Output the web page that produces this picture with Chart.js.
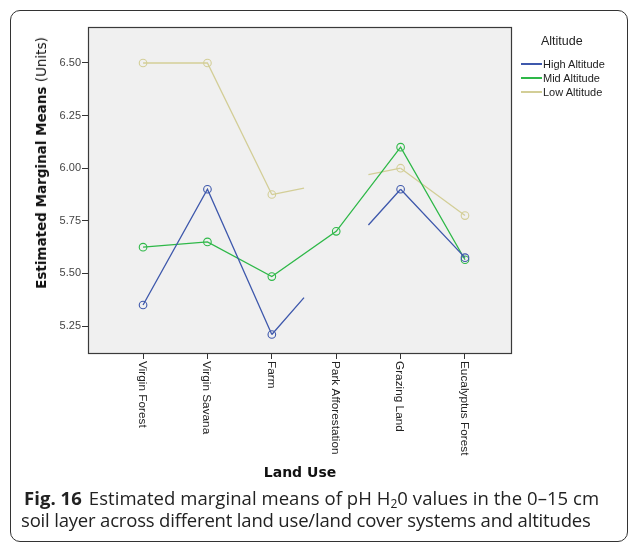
<!DOCTYPE html>
<html>
<head>
<meta charset="utf-8">
<script src="https://cdn.jsdelivr.net/npm/chart.js@4/dist/chart.umd.min.js"></script>
<style>
  html, body { margin: 0; padding: 0; background: #fff; }
  body { width: 629px; height: 544px; position: relative; overflow: hidden; }
  #frame {
    position: absolute; left: 10px; top: 10px; width: 618px; height: 532px;
    border: 1px solid #333; border-radius: 10px; box-sizing: border-box;
  }
  #wrap { position: absolute; left: 0; top: 0; width: 629px; height: 490px; }
  #ytitle {
    position: absolute; left: 41px; top: 163px;
    transform: translate(-50%, -50%) rotate(-90deg);
    white-space: nowrap; font-family: "DejaVu Sans", sans-serif; font-size: 13.5px; color: #111;
  }
  #ytitle b { font-weight: bold; }
  #legend { position: absolute; left: 521px; top: 31.5px; font-family: "Liberation Sans", Arial, sans-serif; color: #222; }
  #legend .ttl { position: absolute; left: 20px; top: 2px; font-size: 12.5px; white-space: nowrap; }
  #legend .item { position: absolute; left: 0; height: 14px; white-space: nowrap; font-size: 11px; line-height: 14px; }
  #legend .item i { display: inline-block; width: 21px; height: 2px; vertical-align: middle; margin-right: 1px; position: relative; top: -1px; }
  #caption {
    position: absolute; left: 21px; top: 486.5px; width: 606px;
    font-family: "Open Sans", sans-serif; font-size: 18.5px; line-height: 22.5px; color: #222;
  }
  #caption .l1 { display: block; white-space: nowrap; padding-left: 3px; letter-spacing: 0.05px; }
  #caption .l2 { display: block; white-space: nowrap; letter-spacing: -0.18px; }
  #caption b { font-weight: bold; margin-right: 7px; }
  #caption sub { font-size: 12px; vertical-align: -3px; line-height: 0; }
</style>
</head>
<body>
<div id="frame"></div>
<div id="wrap"><canvas id="chart"></canvas></div>
<div id="ytitle"><b>Estimated Marginal Means</b> (Units)</div>
<div id="legend"></div>
<div id="caption"><span class="l1"><b>Fig. 16</b>Estimated marginal means of pH H<sub>2</sub>0 values in the 0–15 cm</span><span class="l2">soil layer across different land use/land cover systems and altitudes</span></div>
<script>
// Land use categories along the x axis
const landUse = ['Virgin Forest', 'Virgin Savana', 'Farm', 'Park Afforestation', 'Grazing Land', 'Eucalyptus Forest'];

// Estimated marginal means of pH H2O per altitude (null = no estimate)
const highAltitude = [5.35, 5.90, 5.21, null, 5.90, 5.575];
const midAltitude  = [5.625, 5.65, 5.485, 5.70, 6.10, 5.565];
const lowAltitude  = [6.50, 6.50, 5.875, null, 6.00, 5.775];

// Half-segment ends drawn toward the missing Park Afforestation cell
// (value at the Farm side, value at the Grazing Land side)
const highGapEnds = [5.385, 5.73];
const lowGapEnds  = [5.905, 5.97];

// Y axis tick values
const yTicks = [5.25, 5.50, 5.75, 6.00, 6.25, 6.50];

const seriesNames  = ['High Altitude', 'Mid Altitude', 'Low Altitude'];
const seriesColors = ['#3e58ac', '#2eb848', '#d3ce97'];

const toPoints = arr => arr.map((v, i) => ({ x: i, y: v }));
const gapPoints = (arr, ends) => [
  { x: 2, y: arr[2] }, { x: 2.5, y: ends[0] }, { x: 3, y: null },
  { x: 3.5, y: ends[1] }, { x: 4, y: arr[4] }
];

const lineStyle = (color) => ({
  borderColor: color, backgroundColor: 'transparent', borderWidth: 1.3,
  pointBorderColor: color, pointBackgroundColor: 'transparent',
  pointRadius: 3.8, pointHoverRadius: 3.8, pointBorderWidth: 1.1,
  spanGaps: false, tension: 0
});

const datasets = [
  Object.assign({ label: seriesNames[0], data: toPoints(highAltitude) }, lineStyle(seriesColors[0])),
  Object.assign({ label: seriesNames[1], data: toPoints(midAltitude) }, lineStyle(seriesColors[1])),
  Object.assign({ label: seriesNames[2], data: toPoints(lowAltitude) }, lineStyle(seriesColors[2])),
  Object.assign({ label: 'high-gap', data: gapPoints(highAltitude, highGapEnds) }, lineStyle(seriesColors[0]), { pointRadius: 0 }),
  Object.assign({ label: 'low-gap', data: gapPoints(lowAltitude, lowGapEnds) }, lineStyle(seriesColors[2]), { pointRadius: 0 })
];
// draw order: low behind, high on top
datasets[0].order = 1; datasets[1].order = 2; datasets[2].order = 3;
datasets[3].order = 1; datasets[4].order = 3;

// Grey plot panel with a dark frame
const plotPanel = {
  id: 'plotPanel',
  beforeDraw(chart) {
    const { ctx, chartArea: a } = chart;
    ctx.save();
    ctx.fillStyle = '#f0f0f0';
    ctx.fillRect(a.left, a.top, a.right - a.left, a.bottom - a.top);
    ctx.restore();
  },
  afterDraw(chart) {
    const { ctx, chartArea: a } = chart;
    ctx.save();
    ctx.strokeStyle = '#3a3a3a';
    ctx.lineWidth = 1.2;
    ctx.strokeRect(Math.round(a.left) + 0.5, Math.round(a.top) + 0.5,
                   Math.round(a.right - a.left) - 1, Math.round(a.bottom - a.top));
    ctx.restore();
  }
};

// Category names written downward beneath each x tick
const verticalCategoryLabels = {
  id: 'verticalCategoryLabels',
  afterDraw(chart) {
    const { ctx, chartArea: a } = chart;
    const xs = chart.scales.x;
    ctx.save();
    ctx.font = '11.8px "Liberation Sans", Arial, sans-serif';
    ctx.fillStyle = '#222';
    ctx.textAlign = 'left';
    ctx.textBaseline = 'middle';
    landUse.forEach((name, i) => {
      const px = xs.getPixelForValue(i);
      ctx.save();
      ctx.translate(px - 1, a.bottom + 8);
      ctx.rotate(Math.PI / 2);
      ctx.fillText(name, 0, 0);
      ctx.restore();
    });
    ctx.restore();
  }
};

new Chart(document.getElementById('chart'), {
  type: 'line',
  data: { datasets },
  plugins: [plotPanel, verticalCategoryLabels],
  options: {
    responsive: true,
    maintainAspectRatio: false,
    animation: false,
    events: [],
    layout: { padding: { left: 0, top: 27, right: 117, bottom: 0 } },
    plugins: { legend: { display: false }, tooltip: { enabled: false } },
    scales: {
      x: {
        type: 'linear',
        min: -0.855, max: 5.73,
        afterBuildTicks: s => { s.ticks = landUse.map((_, i) => ({ value: i })); },
        afterFit: s => { s.height = 137; },
        ticks: { display: false },
        grid: { drawOnChartArea: false, drawTicks: true, tickLength: 6, color: '#333', lineWidth: 1 },
        border: { display: false },
        title: {
          display: true, text: 'Land Use', color: '#111',
          font: { family: '"DejaVu Sans", sans-serif', size: 14, weight: 'bold' },
          padding: { top: 0, bottom: 8.5 }
        }
      },
      y: {
        type: 'linear',
        min: 5.122, max: 6.671,
        afterBuildTicks: s => { s.ticks = yTicks.map(v => ({ value: v })); },
        afterFit: s => { s.width = 88; },
        ticks: {
          callback: v => Number(v).toFixed(2),
          color: '#444', padding: 1,
          font: { family: '"Liberation Sans", Arial, sans-serif', size: 11 }
        },
        grid: { drawOnChartArea: false, drawTicks: true, tickLength: 6, color: '#333', lineWidth: 1 },
        border: { display: false }
      }
    }
  }
});

// Legend for the three altitude series
const legend = document.getElementById('legend');
legend.innerHTML = '<div class="ttl">Altitude</div>' + seriesNames.map((n, i) =>
  `<div class="item" style="top:${25 + i * 14.2}px"><i style="background:${seriesColors[i]}"></i>${n}</div>`
).join('');
</script>
</body>
</html>
